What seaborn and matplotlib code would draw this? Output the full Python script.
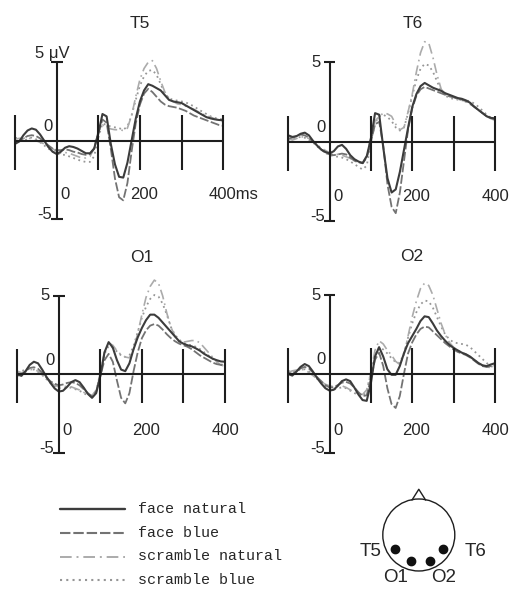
import numpy as np
import pandas as pd
import seaborn as sns
import matplotlib.pyplot as plt
from matplotlib.patches import Circle

# time axis (ms) shared by all channels
time_ms = list(range(-100, 401, 10))

conditions = ['face natural', 'face blue', 'scramble natural', 'scramble blue']
channels = ['T5', 'T6', 'O1', 'O2']

# ---- T5 ----
t5_face_natural = [-0.2, -0.05, 0.35, 0.65, 0.78, 0.7, 0.4, 0.0, -0.4, -0.7, -0.85, -0.7, -0.45, -0.35, -0.4, -0.5,
                   -0.65, -0.8, -0.8, -0.5, 0.45, 1.7, 1.55, -0.2, -1.5, -2.3, -2.35, -1.4, 0.0, 1.4, 2.5, 3.2, 3.6,
                   3.5, 3.35, 3.2, 2.9, 2.6, 2.5, 2.45, 2.4, 2.25, 2.1, 1.95, 1.8, 1.65, 1.5, 1.42, 1.36, 1.32, 1.3]
t5_face_blue = [-0.1, 0.0, 0.15, 0.3, 0.35, 0.3, 0.15, -0.1, -0.3, -0.5, -0.6, -0.6, -0.55, -0.6, -0.7, -0.75,
                -0.85, -0.9, -0.85, -0.5, 0.5, 1.35, 1.15, -0.5, -2.4, -3.6, -3.8, -2.7, -0.7, 1.1, 2.3, 3.0, 3.3,
                3.1, 2.8, 2.5, 2.3, 2.2, 2.15, 2.1, 2.0, 1.9, 1.75, 1.6, 1.5, 1.4, 1.3, 1.2, 1.1, 1.0, 0.95]
t5_scramble_natural = [0.1, 0.15, 0.15, 0.2, 0.1, 0.0, -0.1, -0.2, -0.4, -0.5, -0.7, -0.8, -0.75, -0.8, -0.9, -1.0,
                       -1.1, -1.1, -1.0, -0.5, 0.6, 1.0, 0.85, 0.75, 0.7, 0.7, 0.65, 0.8, 1.6, 2.8, 3.9, 4.6, 5.0,
                       5.1, 4.6, 3.8, 3.1, 2.7, 2.5, 2.35, 2.3, 2.2, 2.1, 2.0, 1.85, 1.7, 1.6, 1.5, 1.4, 1.3, 1.2]
t5_scramble_blue = [0.2, 0.1, 0.0, 0.1, 0.2, 0.1, -0.1, -0.3, -0.5, -0.7, -0.8, -0.9, -0.9, -1.0, -1.1, -1.2,
                    -1.3, -1.35, -1.35, -1.0, 0.2, 1.1, 1.0, 0.9, 0.85, 0.8, 0.7, 0.9, 1.6, 2.6, 3.5, 4.1, 4.45,
                    4.5, 4.2, 3.6, 3.0, 2.7, 2.6, 2.55, 2.5, 2.45, 2.3, 2.2, 2.0, 1.85, 1.7, 1.55, 1.45, 1.4, 1.35]

# ---- T6 ----
t6_face_natural = [0.4, 0.3, 0.35, 0.5, 0.57, 0.4, 0.05, -0.25, -0.5, -0.65, -0.73, -0.6, -0.3, -0.2, -0.45, -0.85,
                   -1.1, -1.25, -1.35, -0.9, 0.2, 1.8, 1.7, -0.4, -2.3, -3.2, -3.0, -1.9, -0.5, 0.9, 2.2, 3.0, 3.5,
                   3.7, 3.55, 3.4, 3.3, 3.2, 3.05, 2.95, 2.85, 2.75, 2.7, 2.6, 2.45, 2.2, 2.0, 1.8, 1.6, 1.5, 1.47]
t6_face_blue = [0.2, 0.25, 0.35, 0.45, 0.4, 0.25, 0.0, -0.25, -0.5, -0.7, -0.8, -0.85, -0.8, -0.75, -0.8, -1.0,
                -1.2, -1.3, -1.35, -1.0, 0.0, 1.1, 1.25, -0.3, -2.7, -4.1, -4.5, -3.2, -1.2, 0.8, 2.1, 2.9, 3.3,
                3.45, 3.35, 3.25, 3.15, 3.05, 2.95, 2.85, 2.8, 2.7, 2.65, 2.55, 2.4, 2.2, 2.0, 1.8, 1.6, 1.5, 1.4]
t6_scramble_natural = [0.2, 0.1, 0.2, 0.3, 0.3, 0.2, 0.0, -0.2, -0.4, -0.55, -0.7, -0.75, -0.8, -0.85, -0.95, -1.05,
                       -1.2, -1.3, -1.3, -0.9, 0.3, 1.3, 1.6, 1.8, 1.75, 1.6, 1.1, 0.75, 0.9, 1.9, 3.0, 4.4, 5.6,
                       6.3, 6.2, 5.3, 4.2, 3.3, 3.0, 2.9, 2.8, 2.7, 2.6, 2.5, 2.35, 2.2, 2.0, 1.8, 1.6, 1.45, 1.35]
t6_scramble_blue = [0.1, 0.2, 0.25, 0.3, 0.25, 0.1, -0.05, -0.3, -0.5, -0.7, -0.85, -0.9, -0.95, -1.0, -1.1, -1.25,
                    -1.4, -1.6, -1.75, -1.5, 0.0, 1.2, 1.6, 1.7, 1.55, 1.3, 0.9, 0.7, 0.9, 1.8, 2.9, 3.9, 4.6,
                    4.9, 4.8, 4.4, 3.8, 3.2, 2.9, 2.75, 2.7, 2.65, 2.6, 2.6, 2.55, 2.4, 2.2, 1.95, 1.7, 1.5, 1.4]

# ---- O1 ----
o1_face_natural = [0.0, -0.1, 0.2, 0.6, 0.8, 0.7, 0.3, -0.15, -0.55, -0.9, -1.1, -1.05, -0.8, -0.5, -0.37, -0.5,
                   -0.85, -1.25, -1.5, -1.2, -0.1, 1.4, 2.05, 1.7, 0.9, 0.3, 0.2, 0.7, 1.6, 2.35, 2.95, 3.45, 3.8,
                   3.8, 3.6, 3.3, 3.0, 2.7, 2.4, 2.1, 1.95, 1.85, 1.78, 1.65, 1.5, 1.3, 1.15, 1.0, 0.9, 0.82, 0.8]
o1_face_blue = [-0.1, 0.0, 0.2, 0.4, 0.45, 0.35, 0.1, -0.2, -0.45, -0.6, -0.7, -0.65, -0.55, -0.5, -0.55, -0.7,
                -0.95, -1.2, -1.4, -1.1, -0.1, 0.9, 1.3, 0.8, -0.4, -1.5, -1.85, -1.2, 0.2, 1.4, 2.3, 2.8, 3.1,
                3.2, 3.1, 2.85, 2.55, 2.3, 2.1, 1.95, 1.85, 1.75, 1.6, 1.4, 1.2, 1.05, 0.9, 0.75, 0.65, 0.6, 0.55]
o1_scramble_natural = [0.2, 0.1, 0.15, 0.3, 0.3, 0.2, 0.0, -0.25, -0.5, -0.7, -0.8, -0.8, -0.75, -0.8, -0.9, -1.0,
                       -1.15, -1.3, -1.35, -1.0, 0.1, 1.4, 2.0, 1.85, 1.5, 1.25, 1.1, 1.05, 1.6, 2.6, 3.8, 4.9, 5.6,
                       6.0, 5.8, 5.0, 3.9, 3.0, 2.4, 2.1, 2.05, 2.1, 2.15, 2.15, 2.0, 1.7, 1.4, 1.1, 0.8, 0.6, 0.5]
o1_scramble_blue = [0.1, 0.2, 0.3, 0.35, 0.3, 0.15, -0.05, -0.3, -0.55, -0.75, -0.9, -0.9, -0.85, -0.85, -0.95, -1.05,
                    -1.2, -1.35, -1.4, -1.1, 0.0, 1.3, 1.8, 1.7, 1.45, 1.2, 1.1, 1.2, 1.8, 2.7, 3.6, 4.3, 4.8,
                    5.05, 4.95, 4.5, 3.8, 3.0, 2.5, 2.2, 2.0, 1.9, 1.85, 1.75, 1.6, 1.4, 1.2, 1.0, 0.8, 0.65, 0.55]

# ---- O2 ----
o2_face_natural = [0.0, -0.1, 0.15, 0.45, 0.63, 0.5, 0.15, -0.25, -0.6, -0.9, -1.05, -1.0, -0.75, -0.45, -0.34, -0.45,
                   -0.85, -1.3, -1.65, -1.7, -0.6, 1.1, 1.7, 1.1, 0.3, -0.05, -0.05, 0.5, 1.3, 1.95, 2.4, 2.85, 3.35,
                   3.65, 3.6, 3.2, 2.75, 2.4, 2.1, 1.85, 1.65, 1.5, 1.35, 1.25, 1.1, 0.9, 0.7, 0.55, 0.5, 0.6, 0.68]
o2_face_blue = [0.1, 0.0, 0.15, 0.35, 0.45, 0.35, 0.1, -0.2, -0.45, -0.7, -0.85, -0.85, -0.7, -0.55, -0.5, -0.6,
                -0.85, -1.15, -1.4, -1.35, -0.3, 0.9, 1.35, 0.5, -0.9, -1.9, -2.15, -1.4, 0.0, 1.3, 2.0, 2.5, 2.85,
                3.0, 2.95, 2.7, 2.45, 2.2, 1.95, 1.75, 1.55, 1.4, 1.3, 1.2, 1.05, 0.85, 0.65, 0.5, 0.45, 0.5, 0.55]
o2_scramble_natural = [0.1, 0.2, 0.25, 0.3, 0.25, 0.1, -0.1, -0.3, -0.5, -0.65, -0.75, -0.8, -0.75, -0.75, -0.85, -1.0,
                       -1.15, -1.25, -1.3, -1.0, 0.1, 1.5, 2.1, 1.9, 1.5, 1.2, 0.8, 0.6, 1.2, 2.4, 3.6, 4.6, 5.4,
                       5.75, 5.6, 5.0, 4.1, 3.2, 2.5, 2.0, 1.7, 1.5, 1.35, 1.25, 1.1, 0.9, 0.7, 0.55, 0.45, 0.4, 0.45]
o2_scramble_blue = [0.2, 0.1, 0.2, 0.3, 0.3, 0.15, -0.05, -0.3, -0.55, -0.8, -0.95, -1.0, -0.9, -0.85, -0.9, -1.05,
                    -1.2, -1.35, -1.4, -1.1, 0.0, 1.2, 1.7, 1.55, 1.3, 1.0, 0.75, 0.7, 1.3, 2.3, 3.2, 3.9, 4.4,
                    4.65, 4.6, 4.2, 3.6, 3.0, 2.5, 2.2, 2.0, 1.95, 1.9, 1.85, 1.7, 1.45, 1.2, 0.95, 0.7, 0.5, 0.4]

# electrode map (head radius = 1)
electrode_names = ['T5', 'O1', 'O2', 'T6']
electrode_x = [-0.65, -0.23, 0.3, 0.66]
electrode_y = [-0.39, -0.71, -0.71, -0.39]

series = {
    'T5': [t5_face_natural, t5_face_blue, t5_scramble_natural, t5_scramble_blue],
    'T6': [t6_face_natural, t6_face_blue, t6_scramble_natural, t6_scramble_blue],
    'O1': [o1_face_natural, o1_face_blue, o1_scramble_natural, o1_scramble_blue],
    'O2': [o2_face_natural, o2_face_blue, o2_scramble_natural, o2_scramble_blue],
}
rows = []
for ch in channels:
    for cond, vals in zip(conditions, series[ch]):
        for t, v in zip(time_ms, vals):
            rows.append((ch, cond, t, v))
df = pd.DataFrame(rows, columns=['channel', 'condition', 'time', 'uV'])

# styles
PAL = {'face natural': '#3c3c3c', 'face blue': '#737373',
       'scramble natural': '#ababab', 'scramble blue': '#969696'}
DASH = {'face natural': '', 'face blue': (5, 1.4),
        'scramble natural': (6, 2.5, 1, 2.5), 'scramble blue': (1, 2)}
LW = {'face natural': 1.5, 'face blue': 1.3, 'scramble natural': 1.2, 'scramble blue': 1.3}
draw_order = ['scramble blue', 'scramble natural', 'face blue', 'face natural']

sns.set_style('white')
plt.rcParams['font.family'] = ['Liberation Sans Narrow', 'Liberation Sans', 'DejaVu Sans']
AX = '#1e1e1e'
FS = 12

W, H = 511, 590
fig = plt.figure(figsize=(W / 100, H / 100), dpi=100)

# pixel placement: (x of t=0, y of 0 uV, px per ms, px per uV)
place = {'T5': (56.7, 140.7, 0.416, 15.7), 'T6': (329.6, 141.7, 0.4134, 15.88),
         'O1': (58.8, 374.3, 0.4154, 15.7), 'O2': (329.5, 374.0, 0.4134, 15.8)}
XL, YL = (-130, 430), (-6, 8)

for ch in channels:
    x0, y0, pxms, pxuv = place[ch]
    left = x0 + XL[0] * pxms
    top = y0 - YL[1] * pxuv
    ax = fig.add_axes([left / W, 1 - (top + (YL[1] - YL[0]) * pxuv) / H,
                       (XL[1] - XL[0]) * pxms / W, (YL[1] - YL[0]) * pxuv / H])
    sns.lineplot(data=df[df.channel == ch], x='time', y='uV', hue='condition', style='condition',
                 size='condition', hue_order=draw_order, style_order=draw_order, size_order=draw_order,
                 palette=PAL, dashes=DASH, sizes=LW, estimator=None, legend=False, ax=ax)
    ax.set_xlim(XL)
    ax.set_ylim(YL)
    ax.set_axis_off()

    # hand-drawn axes like the original
    ax.hlines(0, -100, 400, color=AX, lw=1.5, zorder=5)
    ax.vlines([-100, 100, 200, 300, 400], -1.85, 1.62, color=AX, lw=1.5, zorder=5)
    ax.vlines(0, -5, 5, color=AX, lw=1.5, zorder=5)
    ax.hlines([5, -5], -14, 14, color=AX, lw=1.5, zorder=5)

    ylab = -3.45 if ch.startswith('T') else -3.6
    if ch == 'T5':
        ax.text(-10, 5.25, '5 \u03bcV', ha='center', va='baseline', fontsize=FS)
        ax.text(366, ylab, '400ms', ha='left', va='center', fontsize=FS)
    else:
        ax.text(-22, 5.0, '5', ha='right', va='center', fontsize=FS)
        ax.text(402, ylab, '400', ha='center', va='center', fontsize=FS)
    ax.text(-10, 0.9, '0', ha='right', va='center', fontsize=FS)
    ax.text(-12, -5, '-5', ha='right', va='baseline', fontsize=FS)
    ax.text(9, ylab, '0', ha='left', va='center', fontsize=FS)
    ax.text(210, ylab, '200', ha='center', va='center', fontsize=FS)
    ax.text(200, 7.45, ch, ha='center', va='center', fontsize=12.5)

# legend block
leg = fig.add_axes([0, 0, 250 / W, 100 / H])
leg.set_xlim(0, 250)
leg.set_ylim(100, 0)
leg.set_axis_off()
for i, cond in enumerate(conditions):
    yy = 19.3 + i * 23.6
    leg.plot([60, 125], [yy, yy], color=PAL[cond], lw=LW[cond] + 0.2,
             dashes=DASH[cond] if DASH[cond] else (None, None))
    leg.text(138, yy, cond, ha='left', va='center', fontsize=10.8, family='Liberation Mono')

# electrode head map
hd = fig.add_axes([350.4 / W, 0.3 / H, 136.8 / W, 103.3 / H])
hd.set_xlim(-1.9, 1.9)
hd.set_ylim(-1.52, 1.35)
hd.set_axis_off()
hd.add_patch(Circle((0, 0), 1.0, fill=False, ec=AX, lw=1.0))
hd.plot([-0.19, 0, 0.19], [0.97, 1.27, 0.97], color=AX, lw=1.0)
hd.scatter(electrode_x, electrode_y, s=36, color='#111111', zorder=3)
hd.text(-1.03, -0.46, 'T5', ha='right', va='center', fontsize=13.5)
hd.text(1.28, -0.46, 'T6', ha='left', va='center', fontsize=13.5)
hd.text(-0.64, -1.18, 'O1', ha='center', va='center', fontsize=13.5)
hd.text(0.68, -1.18, 'O2', ha='center', va='center', fontsize=13.5)

fig.savefig('out.png', dpi=100)
